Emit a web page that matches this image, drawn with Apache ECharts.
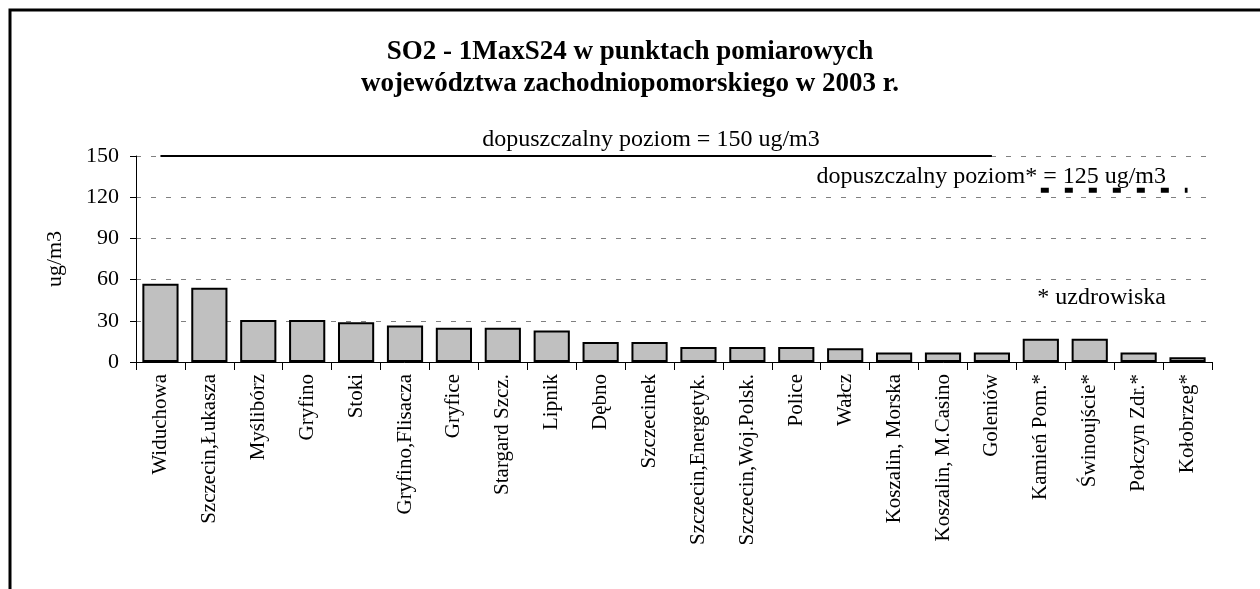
<!DOCTYPE html>
<html>
<head>
<meta charset="utf-8">
<script src="https://cdn.jsdelivr.net/npm/echarts@6/dist/echarts.min.js"></script>
<style>
html,body{margin:0;padding:0;background:#fff;}
#chart{width:1260px;height:589px;}
</style>
</head>
<body>
<div id="chart"></div>
<script>
const categories = ["Widuchowa","Szczecin,Łukasza","Myślibórz","Gryfino","Stoki","Gryfino,Flisacza","Gryfice","Stargard Szcz.","Lipnik","Dębno","Szczecinek","Szczecin,Energetyk.","Szczecin,Woj.Polsk.","Police","Wałcz","Koszalin, Morska","Koszalin, M.Casino","Goleniów","Kamień Pom.*","Świnoujście*","Połczyn Zdr.*","Kołobrzeg*"];
const values = [57,54,30.5,30.5,29,26.5,25,25,23,14.5,14.5,11,11,11,10,7,7,7,17,17,7,3.5];
const limit150 = [150,150,150,150,150,150,150,150,150,150,150,150,150,150,150,150,150,150,null,null,null,null];
const limit125 = [null,null,null,null,null,null,null,null,null,null,null,null,null,null,null,null,null,null,125,125,125,125];
const yTicks = [0,30,60,90,120,150];

const serif = '"Liberation Serif","DejaVu Serif",serif';
const chart = echarts.init(document.getElementById('chart'));
chart.setOption({
  backgroundColor:'#fff',
  animation:false,
  title:{
    text:'SO2 - 1MaxS24 w punktach pomiarowych\nwojewództwa zachodniopomorskiego w 2003 r.',
    left:'center', top:31,
    textStyle:{fontFamily:serif,fontWeight:'bold',fontSize:27,color:'#000',lineHeight:32}
  },
  grid:{left:136,right:48,top:156,bottom:227},
  xAxis:{
    type:'category', data:categories,
    axisLine:{lineStyle:{color:'#000',width:1}},
    axisTick:{show:true,alignWithLabel:false,length:8,lineStyle:{color:'#000'}},
    axisLabel:{rotate:90,interval:0,margin:12,fontFamily:serif,fontSize:21,color:'#000'}
  },
  yAxis:{
    type:'value', min:0, max:150, interval:30,
    name:'ug/m3', nameLocation:'middle', nameGap:70, nameRotate:90,
    nameTextStyle:{fontFamily:serif,fontSize:22,color:'#000'},
    axisLine:{show:true,lineStyle:{color:'#000',width:1}},
    axisTick:{show:true,length:6,lineStyle:{color:'#000'}},
    axisLabel:{fontFamily:serif,fontSize:22,color:'#000',margin:17,
      formatter:function(v){return yTicks.indexOf(v)>=0?String(v):'';}},
    splitLine:{show:true,lineStyle:{color:'#808080',type:[5,10],width:1}}
  },
  series:[
    {type:'bar',data:values,barCategoryGap:'26%',
     itemStyle:{color:'#c0c0c0',borderColor:'#000',borderWidth:2},z:3},
    {type:'line',data:limit150,symbol:'none',
     lineStyle:{color:'#000',width:2},z:4},
    {type:'line',data:limit125,symbol:'none',
     lineStyle:{color:'#000',width:5,type:[8,16]},z:4}
  ],
  graphic:[
    {type:'polyline',shape:{points:[[10,600],[10,10],[1262,10]]},style:{stroke:'#000',lineWidth:3,fill:null}},
    {type:'text',x:651,y:140,style:{text:'dopuszczalny poziom = 150 ug/m3',font:'24px '+serif,fill:'#000',textAlign:'center',textVerticalAlign:'middle'}},
    {type:'text',x:1166,y:177,style:{text:'dopuszczalny poziom* = 125 ug/m3',font:'24px '+serif,fill:'#000',textAlign:'right',textVerticalAlign:'middle'}},
    {type:'text',x:1166,y:298,style:{text:'* uzdrowiska',font:'24px '+serif,fill:'#000',textAlign:'right',textVerticalAlign:'middle'}}
  ]
});
</script>
</body>
</html>
